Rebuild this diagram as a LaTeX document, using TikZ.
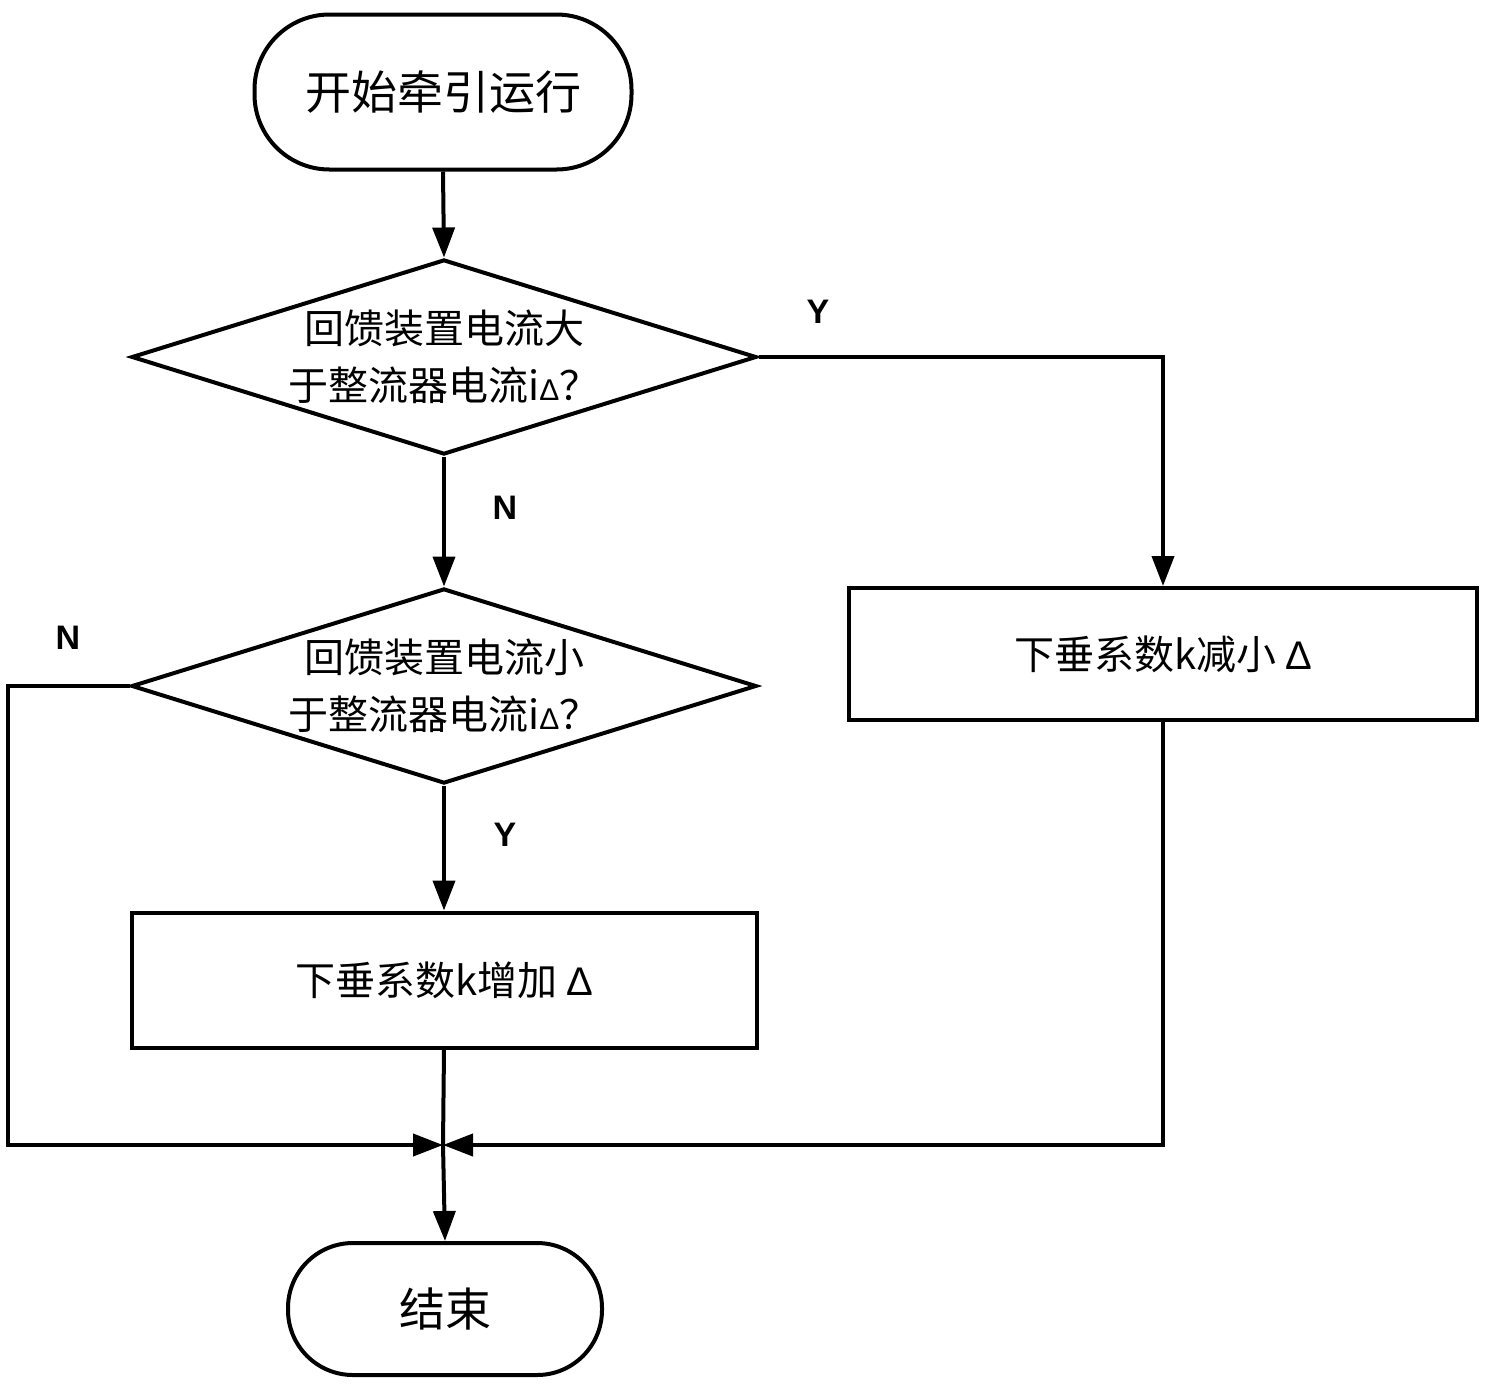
\documentclass[tikz,border=0pt]{standalone}
\usepackage{fontspec}
\setmainfont{Noto Sans CJK SC}
\newfontfamily\lat{Liberation Sans}
\usetikzlibrary{shapes.geometric,arrows.meta}
\begin{document}
\begin{tikzpicture}[x=1pt,y=-1pt,
  line width=4pt,
  arr/.style={-{Triangle[length=30pt,width=22pt]}},
  lab/.style={font=\fontsize{34pt}{40pt}\selectfont\lat\bfseries},
  txt/.style={font=\fontsize{40pt}{57pt}\selectfont,align=center}]
\useasboundingbox (0,0) rectangle (1485,1385);
\node[draw,rounded corners=75pt,minimum width=377pt,minimum height=155pt,txt,font=\fontsize{46pt}{50pt}\selectfont] (start) at (443,92) {开始牵引运行};
\node[draw,diamond,aspect=3.2,inner sep=0pt,minimum width=625pt,minimum height=195pt] (d1) at (444,357) {};
\node[txt] at (444,357) {回馈装置电流大\\于整流器电流i{\lat\fontsize{30pt}{30pt}\selectfont Δ}？};
\node[draw,diamond,aspect=3.2,inner sep=0pt,minimum width=625pt,minimum height=195pt] (d2) at (444,686) {};
\node[txt] at (444,686) {回馈装置电流小\\于整流器电流i{\lat\fontsize{30pt}{30pt}\selectfont Δ}？};
\node[draw,minimum width=625pt,minimum height=135pt,txt] (inc) at (444,980) {下垂系数k增加 {\lat Δ}};
\node[draw,minimum width=628pt,minimum height=132pt,txt] (dec) at (1163,654) {下垂系数k减小 {\lat Δ}};
\node[draw,rounded corners=65pt,minimum width=314pt,minimum height=132pt,txt,font=\fontsize{46pt}{50pt}\selectfont] (end) at (445,1309) {结束};
\coordinate (m) at (443,1145);
\coordinate (ml) at (8,1145);
\coordinate (mr) at (1162,1145);
\draw[arr] (start.south) -- (d1.north);
\draw[arr] (d1.south) -- (d2.north);
\draw[arr] (d2.south) -- (inc.north);
\draw[arr] (d1.east) -| (dec.north);
\draw[arr] (d2.west) -| (ml) -- (m);
\draw[arr] (dec.south) |- (m);
\draw (inc.south) -- (m);
\draw[arr] (m) -- (end.north);
\node[lab] at (818,312) {Y};
\node[lab] at (505,508) {N};
\node[lab] at (68,638) {N};
\node[lab] at (505,835) {Y};
\end{tikzpicture}
\end{document}
